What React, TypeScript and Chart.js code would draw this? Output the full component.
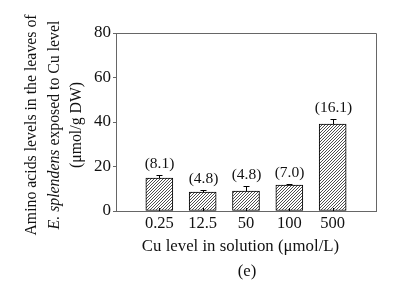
import React, { useEffect, useRef } from 'react';
import { Chart, registerables } from 'chart.js';

Chart.register(...registerables);

const categories = ['0.25', '12.5', '50', '100', '500'];
const values = [14.8, 8.5, 9.0, 11.7, 39.1];
const errors = [1.4, 1.0, 2.2, 0.5, 2.2];
const valueLabels = ['(8.1)', '(4.8)', '(4.8)', '(7.0)', '(16.1)'];
const yTicks = [0, 20, 40, 60, 80];
const xTitle = 'Cu level in solution (μmol/L)';
const panelLabel = '(e)';
const yTitleLine1 = 'Amino acids levels in the leaves of';
const yTitleLine2Italic = 'E. splendens';
const yTitleLine2Rest = ' exposed to Cu level';
const yTitleLine3 = '(μmol/g DW)';

const FONT = '"Liberation Serif", "Times New Roman", serif';
const AXIS = '#666';
const Y_TITLE_SIZE = 15.8;
const X_TITLE_SIZE = 16.8;

function makeHatch(): CanvasPattern | string {
  const n = 3;
  const c = document.createElement('canvas');
  c.width = n;
  c.height = n;
  const g = c.getContext('2d');
  if (!g) return '#fff';
  g.fillStyle = '#fff';
  g.fillRect(0, 0, n, n);
  g.strokeStyle = '#222';
  g.lineWidth = 0.8;
  g.beginPath();
  g.moveTo(0, n); g.lineTo(n, 0);
  g.moveTo(-1, 1); g.lineTo(1, -1);
  g.moveTo(n - 1, n + 1); g.lineTo(n + 1, n - 1);
  g.stroke();
  return g.createPattern(c, 'repeat') || '#fff';
}

const overlay = {
  id: 'overlay',
  afterDatasetsDraw(chart: any) {
    const ctx = chart.ctx as CanvasRenderingContext2D;
    const x = chart.scales.x;
    const y = chart.scales.y;
    const area = chart.chartArea;
    ctx.save();
    // frame top/right
    ctx.strokeStyle = AXIS;
    ctx.lineWidth = 1;
    ctx.beginPath();
    ctx.moveTo(area.left, area.top + 0.5);
    ctx.lineTo(area.right + 0.5, area.top + 0.5);
    ctx.lineTo(area.right + 0.5, area.bottom);
    ctx.stroke();
    // error bars + labels + inward ticks
    categories.forEach((_, i) => {
      const cx = Math.round(x.getPixelForValue(i + 1)) + 0.5;
      const top = y.getPixelForValue(values[i]);
      const errTop = y.getPixelForValue(values[i] + errors[i]);
      ctx.strokeStyle = '#000';
      ctx.lineWidth = 1;
      ctx.beginPath();
      ctx.moveTo(cx, top);
      ctx.lineTo(cx, Math.round(errTop) + 0.5);
      ctx.moveTo(cx - 3, Math.round(errTop) + 0.5);
      ctx.lineTo(cx + 3, Math.round(errTop) + 0.5);
      ctx.moveTo(cx, area.bottom);
      ctx.lineTo(cx, area.bottom - 3);
      ctx.stroke();
      ctx.fillStyle = '#111';
      ctx.font = `15.5px ${FONT}`;
      ctx.textAlign = 'center';
      ctx.textBaseline = 'middle';
      ctx.fillText(valueLabels[i], cx, errTop - 11);
    });
    // x title and panel label
    ctx.fillStyle = '#111';
    ctx.font = `${X_TITLE_SIZE}px ${FONT}`;
    ctx.textAlign = 'center';
    ctx.textBaseline = 'middle';
    ctx.fillText(xTitle, 240.5, 247);
    ctx.fillText(panelLabel, 247, 272);
    // y title (rotated)
    const cy = 125;
    const drawRot = (cxp: number, parts: { t: string; italic: boolean }[]) => {
      ctx.save();
      ctx.translate(cxp, cy);
      ctx.rotate(-Math.PI / 2);
      ctx.textAlign = 'left';
      ctx.textBaseline = 'middle';
      let total = 0;
      const widths = parts.map((p) => {
        ctx.font = `${p.italic ? 'italic ' : ''}${Y_TITLE_SIZE}px ${FONT}`;
        const w = ctx.measureText(p.t).width;
        total += w;
        return w;
      });
      let pos = -total / 2;
      parts.forEach((p, k) => {
        ctx.font = `${p.italic ? 'italic ' : ''}${Y_TITLE_SIZE}px ${FONT}`;
        ctx.fillText(p.t, pos, 0);
        pos += widths[k];
      });
      ctx.restore();
    };
    drawRot(32, [{ t: yTitleLine1, italic: false }]);
    drawRot(55, [
      { t: yTitleLine2Italic, italic: true },
      { t: yTitleLine2Rest, italic: false },
    ]);
    drawRot(77, [{ t: yTitleLine3, italic: false }]);
    ctx.restore();
  },
};

export default function App() {
  const ref = useRef<HTMLCanvasElement | null>(null);
  useEffect(() => {
    document.body.style.margin = '0';
    const canvas = ref.current;
    if (!canvas) return;
    const hatch = makeHatch();
    const chart = new Chart(canvas, {
      type: 'bar',
      data: {
        labels: ['', ...categories, ''],
        datasets: [
          {
            data: [null, ...values, null] as any,
            backgroundColor: hatch as any,
            borderColor: '#000',
            borderWidth: 1,
            borderSkipped: false as any,
            barThickness: 27,
          },
        ],
      },
      options: {
        animation: false,
        responsive: false,
        events: [],
        layout: { padding: { top: 33, right: 30, left: 0, bottom: 0 } },
        plugins: {
          legend: { display: false },
          tooltip: { enabled: false },
          title: { display: false },
        },
        scales: {
          x: {
            type: 'category',
            offset: false,
            grid: { display: false, drawTicks: false },
            border: { display: true, color: AXIS, width: 1 },
            ticks: {
              autoSkip: false,
              maxRotation: 0,
              padding: 3,
              color: '#111',
              font: { family: FONT, size: 16.5 },
            },
            afterFit: (s: any) => {
              s.height = 72;
            },
          },
          y: {
            min: 0,
            max: 80,
            afterBuildTicks: (s: any) => {
              s.ticks = yTicks.map((v) => ({ value: v }));
            },
            grid: {
              drawOnChartArea: false,
              drawTicks: true,
              tickLength: 3,
              color: AXIS,
            },
            border: { display: true, color: AXIS, width: 1 },
            ticks: {
              padding: 2,
              color: '#111',
              font: { family: FONT, size: 17 },
            },
            afterFit: (s: any) => {
              s.width = 116;
            },
          },
        },
      },
      plugins: [overlay],
    });
    return () => chart.destroy();
  }, []);
  return <canvas ref={ref} width={406} height={283} />;
}
